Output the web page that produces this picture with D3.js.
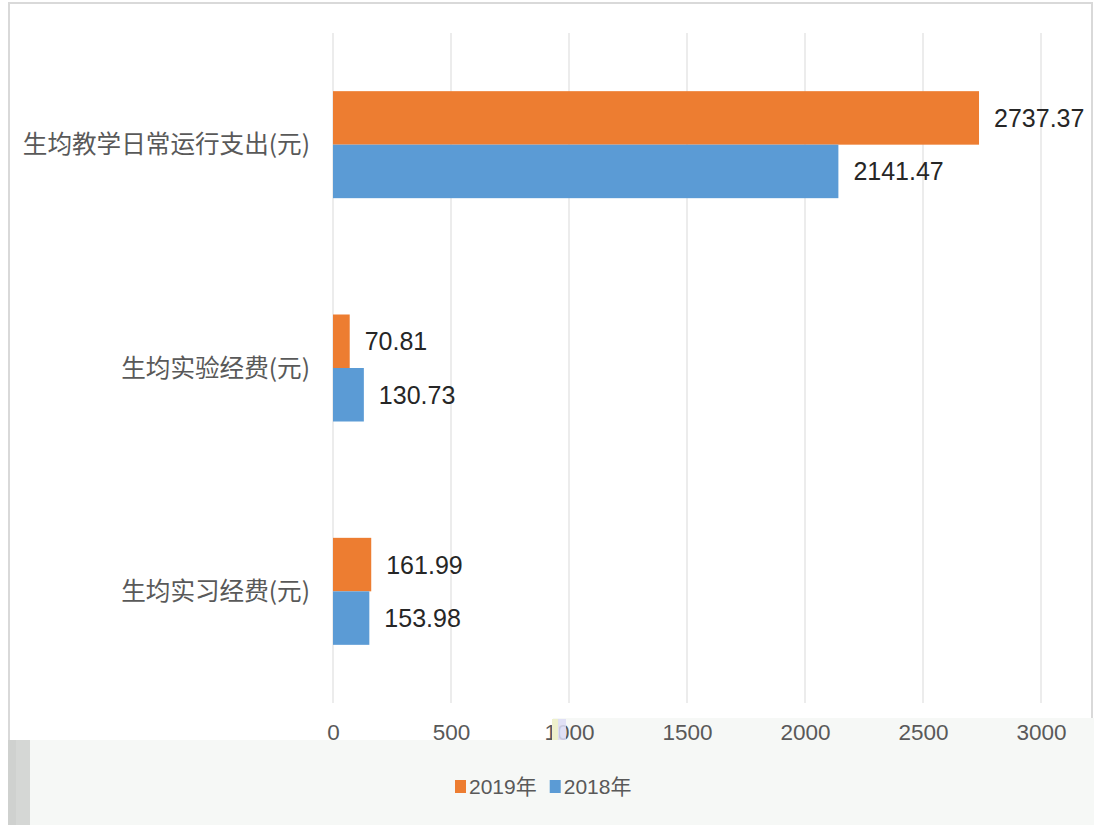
<!DOCTYPE html>
<html>
<head>
<meta charset="utf-8">
<script src="https://cdn.jsdelivr.net/npm/d3@7/dist/d3.min.js"></script>
<style>
  body { margin:0; background:#fff; }
  svg { display:block; }
</style>
</head>
<body>
<svg id="chart"></svg>
<script>
// categories, top to bottom
var categories = ["生均教学日常运行支出(元)", "生均实验经费(元)", "生均实习经费(元)"];
var seriesNames = ["2019年", "2018年"];
var values2019 = [2737.37, 70.81, 161.99];
var values2018 = [2141.47, 130.73, 153.98];
var tickValues = [0, 500, 1000, 1500, 2000, 2500, 3000];
var colors = ["#ED7D31", "#5B9BD5"];

var screen = {width:1094, height:825};
var margins = {top:33, left:333, right:53, bottom:122};
var graph = {
    width: screen.width - margins.left - margins.right,
    height: screen.height - margins.top - margins.bottom
};

var svg = d3.select("#chart")
    .attr("width", screen.width)
    .attr("height", screen.height);

// frame + legend panel, like the cropped screenshot
svg.append("rect")
    .attr("x", 9).attr("y", 3)
    .attr("width", 1083).attr("height", 830)
    .attr("fill", "#fff")
    .attr("stroke", "#d9d9d9")
    .attr("stroke-width", 2);
svg.append("rect")
    .attr("x", 30).attr("y", 740)
    .attr("width", 1064).attr("height", 85)
    .attr("fill", "#f6f8f6");
svg.append("rect")
    .attr("x", 553).attr("y", 718)
    .attr("width", 541).attr("height", 22)
    .attr("fill", "#f6f8f6");
svg.append("rect")
    .attr("x", 8).attr("y", 740)
    .attr("width", 22).attr("height", 85)
    .attr("fill", "#d5d7d5");
svg.append("rect")
    .attr("x", 8).attr("y", 740)
    .attr("width", 8).attr("height", 85)
    .attr("fill", "#cfd1cf");

var xScale = d3.scaleLinear()
    .domain([0, 3000])
    .range([0, graph.width]);

var yScale = d3.scaleBand()
    .domain(categories)
    .range([0, graph.height]);

var inner = d3.scaleBand()
    .domain(seriesNames)
    .range([0, 107]);

var g = svg.append("g")
    .attr("transform", "translate(" + margins.left + "," + margins.top + ")");

// vertical gridlines
g.append("g")
    .selectAll("line")
    .data(tickValues)
    .enter()
    .append("line")
    .attr("x1", function(d) { return xScale(d); })
    .attr("x2", function(d) { return xScale(d); })
    .attr("y1", 0)
    .attr("y2", graph.height)
    .attr("stroke", "#d9d9d9")
    .attr("stroke-width", 1);

// x axis labels
var xAxis = d3.axisBottom(xScale)
    .tickValues(tickValues)
    .tickSize(0)
    .tickPadding(0)
    .tickFormat(d3.format("d"));

g.append("g")
    .attr("transform", "translate(0," + graph.height + ")")
    .call(xAxis)
    .call(function(a) { a.select(".domain").remove(); })
    .selectAll("text")
    .attr("y", 37)
    .attr("dy", 0)
    .attr("fill", "#595959")
    .style("font-family", "'Liberation Sans', Arial, sans-serif")
    .style("font-size", "22.5px");

// y axis labels
var yAxis = d3.axisLeft(yScale).tickSize(0).tickPadding(23);
g.append("g")
    .call(yAxis)
    .call(function(a) { a.select(".domain").remove(); })
    .selectAll("text")
    .attr("dy", "0.35em")
    .attr("fill", "#595959")
    .style("font-family", "'Noto Sans CJK SC', sans-serif")
    .style("font-size", "24.6px");

var rows = [];
categories.forEach(function(c, i) {
    rows.push({cat:c, series:seriesNames[0], value:values2019[i], color:colors[0]});
    rows.push({cat:c, series:seriesNames[1], value:values2018[i], color:colors[1]});
});

var barY = function(d) {
    return yScale(d.cat) + yScale.bandwidth() / 2 - 53.5 + inner(d.series);
};

g.append("g")
    .selectAll("rect")
    .data(rows)
    .enter()
    .append("rect")
    .attr("x", 0)
    .attr("y", barY)
    .attr("width", function(d) { return xScale(d.value); })
    .attr("height", inner.bandwidth())
    .attr("fill", function(d) { return d.color; });

g.append("g")
    .selectAll("text")
    .data(rows)
    .enter()
    .append("text")
    .attr("x", function(d) { return xScale(d.value) + 15; })
    .attr("y", function(d) { return barY(d) + inner.bandwidth() / 2; })
    .attr("dy", "0.36em")
    .attr("fill", "#262626")
    .style("font-family", "'Liberation Sans', Arial, sans-serif")
    .style("font-size", "25px")
    .text(function(d) { return d.value.toFixed(2); });

// smudge over the "1" of 1000 in the original screenshot
svg.append("rect")
    .attr("x", 552).attr("y", 719)
    .attr("width", 7).attr("height", 21)
    .attr("fill", "#eef0cc");
svg.append("rect")
    .attr("x", 558).attr("y", 719)
    .attr("width", 8).attr("height", 21)
    .attr("fill", "#dcdcf4")
    .attr("opacity", 0.85);

// legend
var legend = svg.append("g")
    .attr("transform", "translate(455,786)");
var items = legend.selectAll("g")
    .data(seriesNames)
    .enter()
    .append("g");
items.append("rect")
    .attr("x", 0).attr("y", -6)
    .attr("width", 11).attr("height", 13)
    .attr("fill", function(d, i) { return colors[i]; });
items.append("text")
    .attr("x", 14)
    .attr("dy", "0.36em")
    .attr("fill", "#595959")
    .style("font-family", "'Liberation Sans', 'Noto Sans CJK SC', sans-serif")
    .style("font-size", "21px")
    .text(function(d) { return d; });

// lay legend items out side by side
var offset = 0;
items.each(function() {
    var item = d3.select(this);
    item.attr("transform", "translate(" + offset + ",0)");
    offset += 14 + item.select("text").node().getComputedTextLength() + 13;
});
</script>
</body>
</html>
